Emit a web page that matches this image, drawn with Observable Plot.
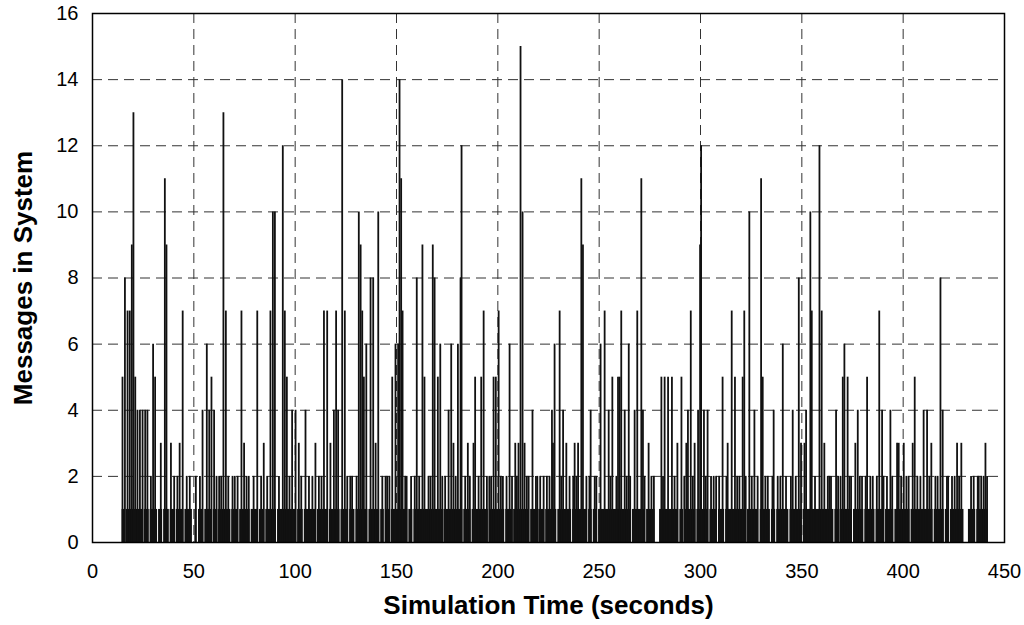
<!DOCTYPE html>
<html>
<head>
<meta charset="utf-8">
<script src="https://cdn.jsdelivr.net/npm/d3@7"></script>
<script src="https://cdn.jsdelivr.net/npm/@observablehq/plot@0.6"></script>
<style>
  html, body { margin: 0; padding: 0; background: #fff; }
  #chart { width: 1024px; height: 625px; }
</style>
</head>
<body>
<div id="chart"></div>
<script>
// Simulation times (seconds) of the peaks and the number of messages reached
const spikeTime = [
  14.8, 16.0, 17.3, 18.4, 19.4, 20.2, 21.1, 22.2, 23.4, 24.7, 26.0, 27.1, 28.8, 29.9, 30.9, 33.7, 35.7, 36.5, 38.7, 40.3,
  41.9, 43.0, 44.5, 51.0, 54.3, 56.4, 57.6, 58.7, 60.0, 62.5, 64.6, 65.8, 67.0, 69.1, 71.6, 73.5, 74.8,
  77.1, 81.3, 84.5, 86.2, 87.8, 89.0, 90.0, 92.0, 93.9, 94.9, 95.9, 98.5, 100.2, 101.8, 105.1, 106.8, 110.0, 111.7,
  114.2, 115.8, 117.4, 119.1, 120.2, 121.2, 123.2, 124.5, 125.7, 128.1, 131.4, 132.3, 133.1, 133.9, 135.1, 137.2,
  138.5, 139.7, 141.0, 143.0, 145.4, 147.9, 149.5, 150.8, 151.5,
  152.3, 153.0, 154.3, 160.0, 161.2, 162.8, 163.8, 165.8, 167.9, 168.8, 170.4, 171.6, 174.0, 175.7, 177.0, 178.1,
  180.3, 181.6, 182.1, 183.9, 185.2, 188.0, 188.8, 190.5, 191.8, 193.0, 194.6, 196.7, 197.9, 199.0, 200.4, 202.5,
  205.8, 208.6, 210.2, 211.2, 212.2, 213.2, 214.3, 217.1, 218.8, 220.9, 222.6, 224.2, 226.7,
  227.2, 228.0, 230.5, 232.2, 233.8, 235.4, 237.9, 239.6, 241.2, 242.0, 243.7, 245.8, 247.8, 250.7, 252.7, 254.7,
  256.5, 258.5, 259.3, 260.1, 260.9, 262.6, 264.6, 267.5, 268.8, 270.8, 271.6, 274.4, 275.8, 280.7, 282.3, 284.0,
  285.9, 288.6, 290.6, 293.0, 293.8, 295.2, 297.1, 298.8, 299.8, 300.3, 301.7,
  303.5, 305.2, 307.7, 310.9, 313.4, 315.4, 317.0, 319.2, 320.8, 321.6, 324.1, 326.6, 328.2, 329.9, 330.7, 333.2,
  336.1, 338.1, 340.6, 342.2, 345.5, 348.5, 349.6, 351.3, 352.1, 354.2, 354.9, 358.7, 359.8, 361.1, 362.8, 364.4,
  366.9, 370.2, 371.0, 372.6, 374.3, 376.4, 377.6,
  379.7, 382.2, 383.8, 388.2, 389.6, 392.0, 393.7, 397.0, 397.8, 400.3, 402.7, 404.7, 405.7, 408.5, 410.1, 411.8,
  413.9, 415.9, 418.4, 419.5, 421.6, 424.1, 426.6, 428.7, 434.8, 437.3, 439.7, 440.6, 441.4
];
const spikeCount = [
  5, 8, 7, 7, 9, 13, 5, 4, 4, 4, 4, 4, 2, 6, 5, 3, 11, 9, 3, 2,
  2, 3, 7, 2, 4, 6, 4, 5, 4, 2, 13, 7, 2, 2, 2, 7, 3,
  2, 7, 3, 2, 7, 10, 10, 2, 12, 7, 5, 4, 4, 3, 4, 2, 3, 2,
  7, 7, 3, 4, 7, 4, 14, 7, 2, 2, 10, 9, 7, 5, 6, 8,
  8, 3, 10, 2, 2, 5, 6, 6, 14,
  11, 7, 2, 8, 2, 9, 5, 2, 9, 8, 5, 6, 2, 4, 6, 3,
  6, 8, 12, 2, 3, 3, 5, 2, 5, 7, 2, 2, 5, 5, 7, 2,
  6, 3, 3, 15, 10, 3, 2, 4, 2, 2, 2, 2, 4,
  3, 6, 7, 4, 3, 2, 3, 3, 11, 9, 2, 4, 2, 6, 7, 4,
  5, 2, 5, 5, 7, 4, 6, 4, 7, 11, 4, 3, 2, 5, 5, 5,
  5, 3, 5, 3, 4, 7, 3, 4, 9, 12, 4,
  4, 2, 2, 5, 3, 7, 5, 2, 5, 7, 10, 4, 2, 11, 5, 2,
  4, 2, 6, 2, 4, 8, 3, 3, 4, 10, 7, 12, 7, 3, 2, 2,
  4, 5, 6, 5, 2, 3, 4,
  2, 5, 2, 7, 4, 2, 4, 3, 3, 3, 2, 3, 5, 2, 4, 4,
  3, 2, 8, 4, 2, 2, 3, 3, 2, 2, 2, 3, 2
];

// Short excursions to two messages between the peaks
const minorTime = [
  46.5, 48.0, 53.0, 61.2, 63.5, 70.2, 76.0, 79.5, 83.2, 97.2, 103.0, 108.5, 113.0, 127.2, 130.3, 144.6, 146.5,
  155.0, 157.2, 159.0, 166.8, 172.6, 179.2, 186.2, 195.8, 201.5, 204.3, 207.0, 209.4, 215.2, 219.5, 225.5,
  231.3, 237.2, 238.8, 245.2, 248.6, 255.6, 263.6, 265.3, 272.4, 277.0, 281.5, 287.2, 292.0, 296.2,
  302.6, 306.5, 309.2, 312.8, 318.1, 322.3, 325.3, 332.0, 335.5, 339.4, 344.6, 347.0, 356.5, 363.6, 367.9,
  369.1, 373.5, 378.6, 381.5, 385.0, 387.0, 390.3, 394.6, 399.0, 401.6, 407.0, 412.9, 417.0, 422.2, 425.4,
  427.6, 433.5, 436.8, 438.5
];
const minorCount = [
  2, 2, 2, 2, 2, 2, 2, 2, 2, 2, 2, 2, 2, 2, 2, 2, 2,
  2, 2, 2, 2, 2, 2, 2, 2, 2, 2, 2, 2, 2, 2, 2,
  2, 2, 2, 2, 2, 2, 2, 2, 2, 2, 2, 2, 2, 2,
  2, 2, 2, 2, 2, 2, 2, 2, 2, 2, 2, 2, 2, 2, 2,
  2, 2, 2, 2, 2, 2, 2, 2, 2, 2, 2, 2, 2, 2, 2,
  2, 2, 2, 2
];

// Period during which at least one message is in the system
const busyStart = 14.6;
const busyEnd = 442.0;
// Short idle moments (system empty) inside that period: [start, end]
const idleGaps = [
  [16.1, 16.6], [21.2, 21.6], [25.1, 25.5], [28.0, 28.4], [32.1, 32.6], [34.6, 35.1], [37.9, 38.3], [40.8, 41.3],
  [45.1, 45.6], [49.3, 50.5], [51.5, 52.3], [54.9, 55.4], [59.2, 59.6], [61.9, 62.2], [68.3, 68.7], [72.1, 72.6],
  [77.8, 78.3], [82.0, 82.4], [85.0, 85.5], [90.8, 91.3], [100.8, 101.2], [104.0, 104.5], [110.6, 111.0],
  [116.3, 116.8], [122.2, 122.6], [126.4, 126.9], [129.5, 130.0], [135.9, 136.4], [141.8, 142.2], [144.0, 144.5],
  [146.9, 147.4],
  [155.6, 156.1], [158.1, 158.6], [172.9, 173.4], [182.8, 183.2], [186.8, 187.3], [195.3, 195.8], [203.4, 203.9],
  [207.3, 207.8], [215.7, 216.2], [219.8, 220.2], [223.2, 223.6],
  [229.1, 229.6], [236.4, 236.9], [244.3, 244.8], [246.6, 247.1], [249.2, 249.7], [265.9, 266.4], [272.9, 273.4],
  [277.6, 279.8], [289.3, 289.8], [291.6, 292.0], [297.8, 298.2],
  [304.1, 304.6], [308.4, 308.9], [311.9, 312.4], [322.8, 323.2], [328.7, 329.4], [334.5, 335.0], [337.1, 337.6],
  [343.6, 344.1], [350.2, 350.7], [365.8, 366.3], [368.3, 368.8], [375.0, 375.5],
  [380.6, 381.1], [386.1, 386.6], [390.8, 391.3], [395.4, 395.9], [403.4, 403.9], [414.8, 415.3], [420.3, 420.8],
  [422.8, 423.3], [430.0, 432.2], [435.8, 436.3]
];

const xTicks = [0, 50, 100, 150, 200, 250, 300, 350, 400, 450];
const yTicks = [0, 2, 4, 6, 8, 10, 12, 14, 16];

// Build tables for the library
const spikes = spikeTime.map((t, i) => ({t, n: spikeCount[i]}))
  .concat(minorTime.map((t, i) => ({t, n: minorCount[i]})));
const busy = [];
let cursor = busyStart;
for (const [a, b] of idleGaps) {
  busy.push({from: cursor, to: a});
  cursor = b;
}
busy.push({from: cursor, to: busyEnd});

const chart = Plot.plot({
  width: 1024,
  height: 625,
  marginLeft: 92,
  marginRight: 20,
  marginTop: 13,
  marginBottom: 83,
  style: {fontFamily: "'Liberation Sans', Arial, sans-serif", fontSize: "20px", color: "#000", background: "#fff"},
  x: {domain: [0, 450], ticks: xTicks},
  y: {domain: [0, 16], ticks: yTicks},
  marks: [
    Plot.gridX(xTicks, {stroke: "#333", strokeOpacity: 1, strokeWidth: 1, strokeDasharray: "10,6"}),
    Plot.gridY(yTicks, {stroke: "#333", strokeOpacity: 1, strokeWidth: 1, strokeDasharray: "10,6"}),
    Plot.rect(busy, {x1: "from", x2: "to", y1: 0, y2: 1, fill: "#111"}),
    Plot.ruleX(spikes, {x: "t", y1: 0, y2: "n", stroke: "#111", strokeWidth: 1.8}),
    Plot.frame({stroke: "#000", strokeWidth: 1.5}),
    Plot.axisX(xTicks, {tickSize: 0, tickPadding: 21, fontSize: 20, label: null}),
    Plot.axisY(yTicks, {tickSize: 0, tickPadding: 14, fontSize: 20, label: null}),
    Plot.text(["Simulation Time (seconds)"], {frameAnchor: "bottom", dy: 71, fontSize: 26, fontWeight: "bold", fill: "#000"}),
    Plot.text(["Messages in System"], {frameAnchor: "left", dx: -69, textAnchor: "middle", rotate: -90, fontSize: 26, fontWeight: "bold", fill: "#000"})
  ]
});
document.getElementById("chart").appendChild(chart);
</script>
</body>
</html>
